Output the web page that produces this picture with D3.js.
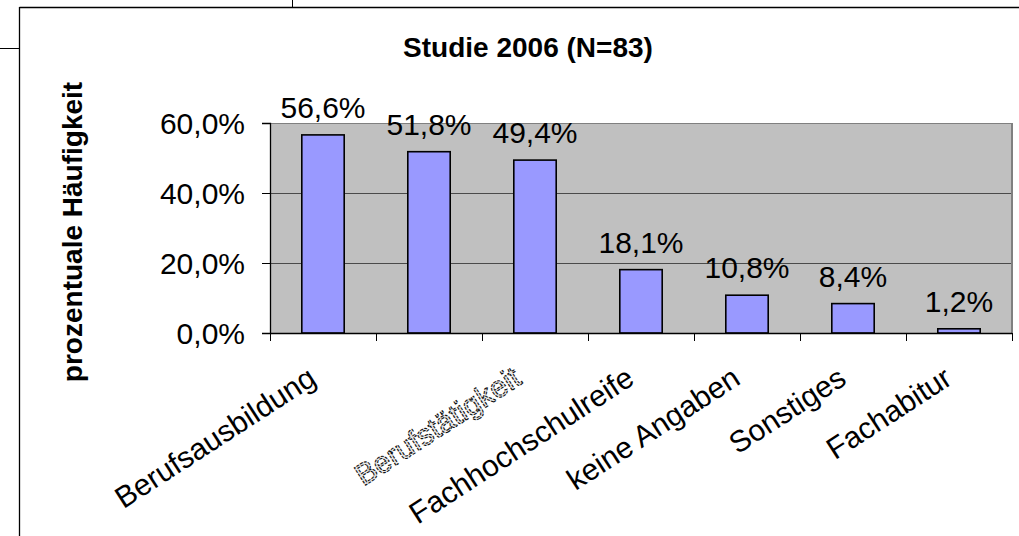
<!DOCTYPE html>
<html>
<head>
<meta charset="utf-8">
<script src="https://cdn.jsdelivr.net/npm/d3@7"></script>
<style>
  html, body { margin: 0; padding: 0; background: #fff; }
  svg { display: block; }
  text { font-family: "Liberation Sans", Arial, sans-serif; }
</style>
</head>
<body>
<svg id="chart" width="1019" height="536"></svg>
<script>
// ---- data ----
const categories = ["Berufsausbildung", "", "Berufstätigkeit", "Fachhochschulreife", "keine Angaben", "Sonstiges", "Fachabitur"];
const values = [56.6, 51.8, 49.4, 18.1, 10.8, 8.4, 1.2];
const yTicks = [0, 20, 40, 60];
const titleText = "Studie 2006 (N=83)";
const yTitle = "prozentuale Häufigkeit";

(function () {
const fmt = v => v.toFixed(1).replace(".", ",") + "%";

const svg = d3.select("#chart");

// frame lines
svg.append("line").attr("x1", 19.5).attr("x2", 1019).attr("y1", 7.5).attr("y2", 7.5).attr("stroke", "#000").attr("stroke-width", 1.3);
svg.append("line").attr("x1", 19.5).attr("x2", 19.5).attr("y1", 7).attr("y2", 536).attr("stroke", "#000").attr("stroke-width", 1.3);
svg.append("line").attr("x1", 0).attr("x2", 19).attr("y1", 48.5).attr("y2", 48.5).attr("stroke", "#000").attr("stroke-width", 1);
svg.append("line").attr("x1", 292.5).attr("x2", 292.5).attr("y1", 0).attr("y2", 7).attr("stroke", "#000").attr("stroke-width", 1);

// plot area
const pLeft = 270, pRight = 1012, pTop = 123, pBottom = 333;

const x = d3.scaleBand().domain(d3.range(categories.length)).range([pLeft, pRight]).padding(0);
const xb = d3.scaleLinear().domain([0, categories.length]).range([pLeft, pRight]);
const y = d3.scaleLinear().domain([0, 60]).range([pBottom, pTop]);

svg.append("rect")
  .attr("x", pLeft).attr("y", pTop)
  .attr("width", pRight - pLeft).attr("height", pBottom - pTop)
  .attr("fill", "#C0C0C0");

// gridlines
svg.append("g").selectAll("line").data(yTicks.filter(d => d > 0)).join("line")
  .attr("x1", pLeft).attr("x2", pRight)
  .attr("y1", d => Math.round(y(d)) + 0.5).attr("y2", d => Math.round(y(d)) + 0.5)
  .attr("stroke", "#4a4a4a").attr("stroke-width", 1);

// right / top border of plot area
svg.append("line").attr("x1", pRight).attr("x2", pRight).attr("y1", pTop).attr("y2", pBottom)
  .attr("stroke", "#808080").attr("stroke-width", 2);
svg.append("line").attr("x1", pLeft).attr("x2", pRight).attr("y1", pTop + 0.5).attr("y2", pTop + 0.5)
  .attr("stroke", "#808080").attr("stroke-width", 1.2);

// bars
const barW = x.bandwidth() * 0.4;
svg.append("g").selectAll("rect").data(values).join("rect")
  .attr("x", (d, i) => x(i) + (x.bandwidth() - barW) / 2)
  .attr("y", d => y(d))
  .attr("width", barW)
  .attr("height", d => pBottom - y(d))
  .attr("fill", "#9999FF")
  .attr("stroke", "#000")
  .attr("stroke-width", 1.6);

// data labels
svg.append("g").selectAll("text").data(values).join("text")
  .attr("x", (d, i) => x(i) + x.bandwidth() / 2)
  .attr("y", d => y(d) - 17)
  .attr("text-anchor", "middle")
  .attr("font-size", 30)
  .attr("fill", "#000")
  .text(d => fmt(d));

// y axis
const yAxis = d3.axisLeft(y).tickValues(yTicks).tickSize(8).tickPadding(17).tickFormat(d => fmt(d));
const gy = svg.append("g").attr("transform", `translate(${pLeft},0)`).call(yAxis);
gy.select(".domain").attr("stroke", "#000").attr("stroke-width", 1.3);
gy.selectAll(".tick line").attr("stroke", "#000").attr("stroke-width", 1);
gy.selectAll(".tick text").attr("font-size", 30).attr("fill", "#000")
  .attr("font-family", "'Liberation Sans', Arial, sans-serif").attr("dy", "0.34em");

// x axis (tick marks at category boundaries)
const xAxis = d3.axisBottom(xb).tickValues(d3.range(categories.length + 1)).tickSize(8).tickFormat("");
const gx = svg.append("g").attr("transform", `translate(0,${pBottom})`).call(xAxis);
gx.select(".domain").attr("stroke", "#000").attr("stroke-width", 1.3).attr("d", `M${pLeft},0.5H${pRight}`);
gx.selectAll(".tick line").attr("stroke", "#000").attr("stroke-width", 1);

// x category labels
const lab = svg.append("g").selectAll("text").data(categories).join("text")
  .attr("transform", (d, i) => `translate(${x(i) + x.bandwidth() / 2 - (i === 2 ? 12 : 5)},${383}) rotate(-33)`)
  .attr("text-anchor", "end")
  .attr("font-size", 30)
  .text(d => d);
lab.filter((d, i) => i === 2)
  .attr("fill", "#e8e8e8")
  .attr("stroke", "#111")
  .attr("stroke-width", 1.1)
  .attr("stroke-dasharray", "3,1.2");
lab.filter((d, i) => i !== 2).attr("fill", "#000");

// title
svg.append("text").attr("x", 528).attr("y", 57).attr("text-anchor", "middle")
  .attr("font-size", 28).attr("font-weight", "bold").attr("fill", "#000").text(titleText);

// y-axis title
svg.append("text").attr("transform", `translate(82,232) rotate(-90)`).attr("text-anchor", "middle")
  .attr("font-size", 28).attr("font-weight", "bold").attr("fill", "#000").text(yTitle);
})();
</script>
</body>
</html>
